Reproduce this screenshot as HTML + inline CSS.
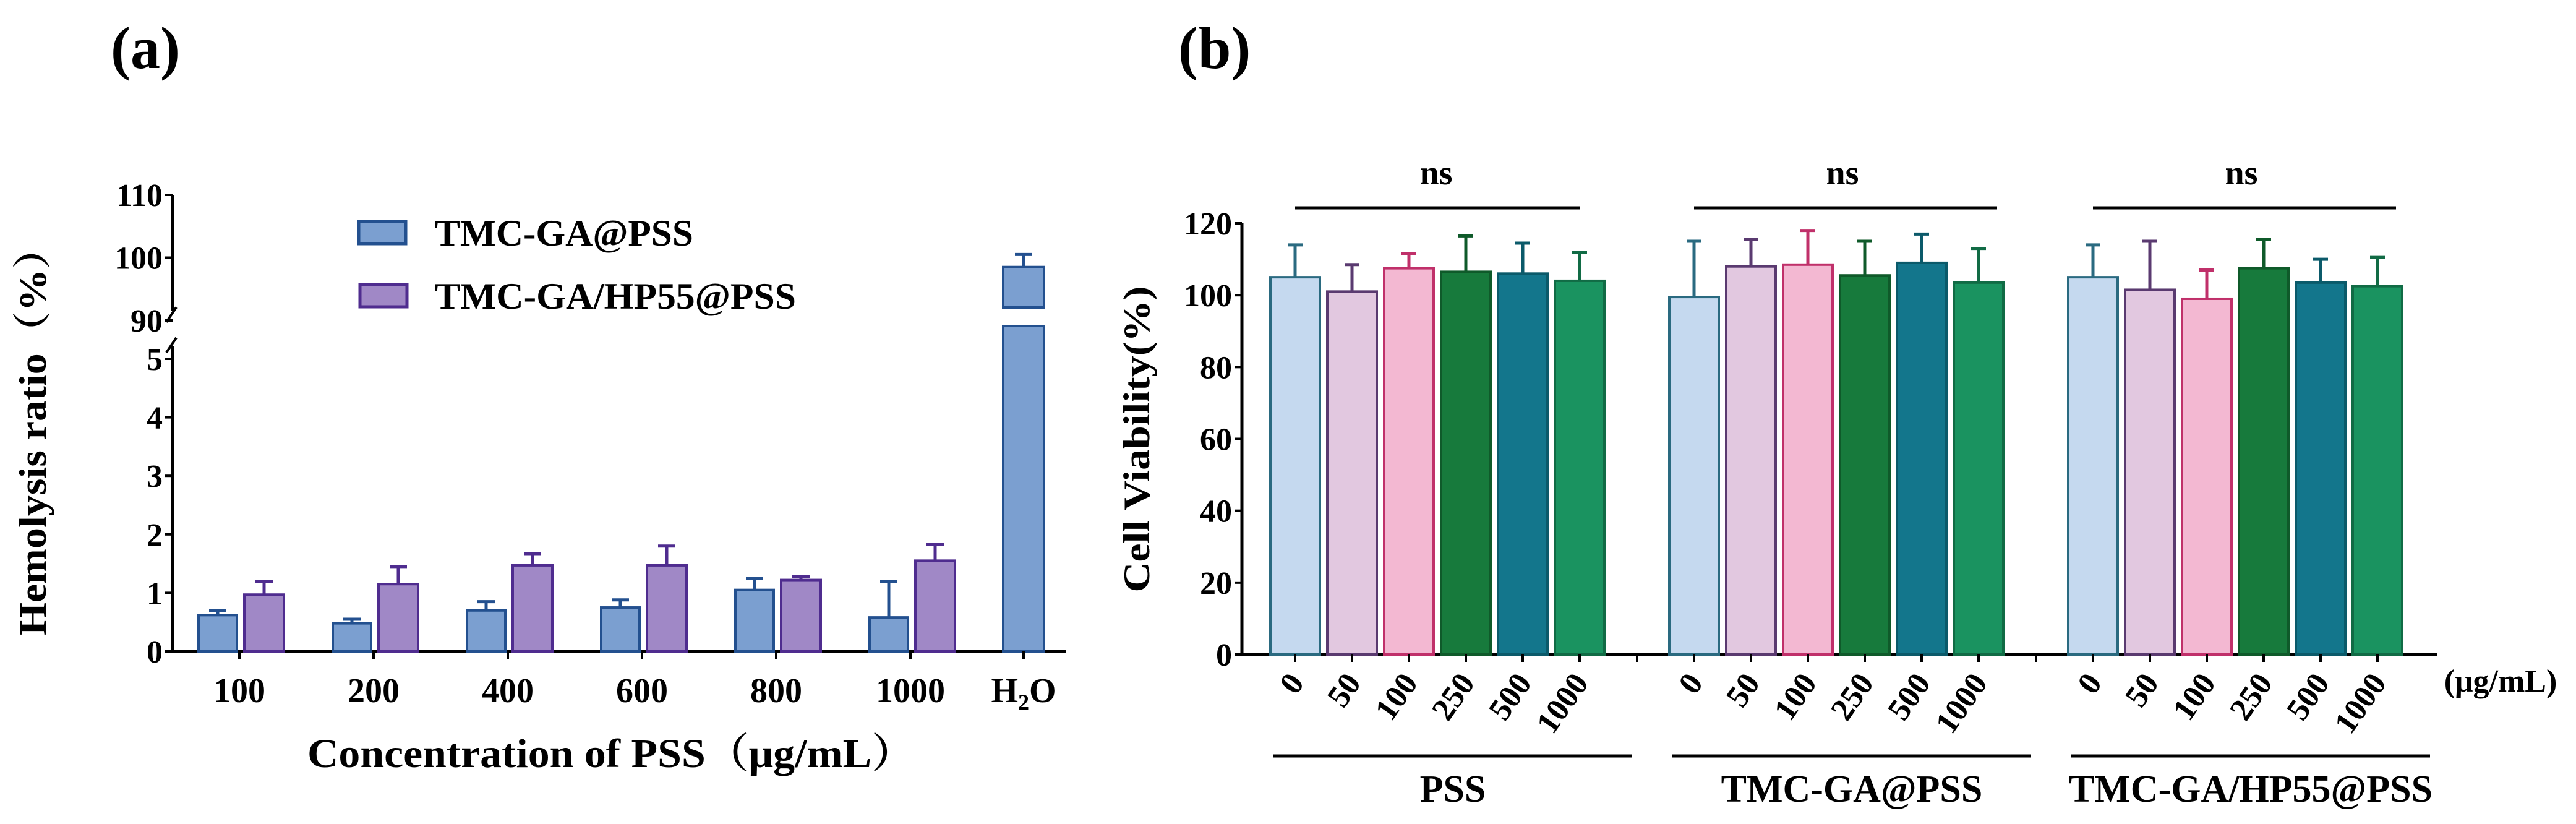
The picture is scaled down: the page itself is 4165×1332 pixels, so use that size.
<!DOCTYPE html>
<html><head><meta charset="utf-8"><style>
html,body{margin:0;padding:0;background:#fff;}
svg{display:block;font-family:"Liberation Serif","Noto Serif CJK SC",serif;font-weight:bold;}
</style></head><body>
<svg id="fig" width="4165" height="1332" viewBox="0 0 4165 1332" xmlns="http://www.w3.org/2000/svg">
<text x="179" y="110" font-size="96">(a)</text>
<text x="1905" y="110" font-size="96">(b)</text>
<g id="ga"></g>
<g id="gb"></g>
</svg>
<script>
// ---- Panel (a) data ----
const aCats = ["100","200","400","600","800","1000"];
const aBlue = [0.62,0.48,0.70,0.75,1.05,0.58];
const aBlueErr = [0.08,0.07,0.15,0.13,0.20,0.62];
const aPurple = [0.97,1.15,1.47,1.47,1.22,1.55];
const aPurpleErr = [0.23,0.30,0.20,0.33,0.06,0.28];
const aH2O = 98.5;
const aH2OErr = 2.0;
const aLowTicks = [0,1,2,3,4,5];
const aHighTicks = [90,100,110];
// ---- Panel (b) data ----
const bGroups = ["PSS","TMC-GA@PSS","TMC-GA/HP55@PSS"];
const bConc = ["0","50","100","250","500","1000"];
const bVals = [[105,101,107.5,106.5,106,104],[99.5,108,108.5,105.5,109,103.5],[105,101.5,99,107.5,103.5,102.5]];
const bErr = [[9,7.5,4,10,8.5,8],[15.5,7.5,9.5,9.5,8,9.5],[9,13.5,8,8,6.5,8]];
const bTicks = [0,20,40,60,80,100,120];

const NS="http://www.w3.org/2000/svg";
function mk(parent,tag,attrs,txt){const e=document.createElementNS(NS,tag);for(const k in attrs)e.setAttribute(k,attrs[k]);if(txt!==undefined)e.textContent=txt;parent.appendChild(e);return e;}

// ---- Panel (a) ----
const ga=document.getElementById('ga');
const aX0=279, aBase=1053, aPerU=94.6;
const yLow=v=>aBase-v*aPerU;
const yHigh=v=>518-(v-90)*10.15;
const catX=i=>387+i*217;
let e=mk(ga,'line',{x1:aX0,y1:aBase,x2:1724,y2:aBase,stroke:'#000','stroke-width':5});

e=mk(ga,'line',{x1:aX0,y1:aBase,x2:aX0,y2:yLow(5)-20,stroke:'#000','stroke-width':5});

e=mk(ga,'line',{x1:aX0,y1:yHigh(91.5),x2:aX0,y2:yHigh(110),stroke:'#000','stroke-width':5});

mk(ga,'line',{x1:aX0-10,y1:yLow(5)-10,x2:aX0+6,y2:yLow(5)-34,stroke:'#000','stroke-width':4});
mk(ga,'line',{x1:aX0-10,y1:yHigh(91.5)+18,x2:aX0+6,y2:yHigh(91.5)-6,stroke:'#000','stroke-width':4});
aLowTicks.forEach(t=>{const y=yLow(t);mk(ga,'line',{x1:aX0-12,y1:y,x2:aX0,y2:y,stroke:'#000','stroke-width':4});
 const l=mk(ga,'text',{x:aX0-16,y:y+18,'font-size':52,'text-anchor':'end'},String(t));
 });
aHighTicks.forEach(t=>{const y=yHigh(t);mk(ga,'line',{x1:aX0-12,y1:y,x2:aX0,y2:y,stroke:'#000','stroke-width':4});
 const l=mk(ga,'text',{x:aX0-16,y:y+18,'font-size':52,'text-anchor':'end'},String(t));
 });
function errBar(g,x,y,ytop,col,hw){mk(g,'line',{x1:x,y1:y,x2:x,y2:ytop,stroke:col,'stroke-width':5});mk(g,'line',{x1:x-hw,y1:ytop,x2:x+hw,y2:ytop,stroke:col,'stroke-width':5});}
aCats.forEach((c,i)=>{
 const cx=catX(i);
 let b=mk(ga,'rect',{x:cx-66,y:yLow(aBlue[i]),width:62,height:aBlue[i]*aPerU,fill:'#7b9fd0',stroke:'#23508f','stroke-width':4});
 
 errBar(ga,cx-35,yLow(aBlue[i]),yLow(aBlue[i]+aBlueErr[i]),'#23508f',14);
 b=mk(ga,'rect',{x:cx+8,y:yLow(aPurple[i]),width:64,height:aPurple[i]*aPerU,fill:'#a088c6',stroke:'#4f2c8f','stroke-width':4});
 
 errBar(ga,cx+40,yLow(aPurple[i]),yLow(aPurple[i]+aPurpleErr[i]),'#4f2c8f',14);
 mk(ga,'line',{x1:cx,y1:aBase,x2:cx,y2:aBase+12,stroke:'#000','stroke-width':4});
 const l=mk(ga,'text',{x:cx,y:1135,'font-size':56,'text-anchor':'middle'},c);
 
});
const hx=1655;
let hb=mk(ga,'rect',{x:hx-33,y:527,width:66,height:aBase-527,fill:'#7b9fd0',stroke:'#23508f','stroke-width':4});

hb=mk(ga,'rect',{x:hx-33,y:yHigh(aH2O),width:66,height:497-yHigh(aH2O),fill:'#7b9fd0',stroke:'#23508f','stroke-width':4});

errBar(ga,hx,yHigh(aH2O),yHigh(aH2O+aH2OErr),'#23508f',14);
mk(ga,'line',{x1:hx,y1:aBase,x2:hx,y2:aBase+12,stroke:'#000','stroke-width':4});
e=mk(ga,'text',{x:hx,y:1135,'font-size':56,'text-anchor':'middle'});e.innerHTML='H<tspan font-size="36" dy="12">2</tspan><tspan dy="-12">O</tspan>';

e=mk(ga,'text',{x:988,y:1240,'font-size':66,'text-anchor':'middle',textLength:982,lengthAdjust:'spacingAndGlyphs'},'Concentration of PSS（μg/mL）');

e=mk(ga,'text',{x:0,y:0,'font-size':62,'text-anchor':'middle',transform:'translate(74,697) rotate(-90)',textLength:660,lengthAdjust:'spacingAndGlyphs'},'Hemolysis ratio（%）');

e=mk(ga,'rect',{x:580,y:358,width:76,height:36,fill:'#7b9fd0',stroke:'#23508f','stroke-width':5});

e=mk(ga,'text',{x:703,y:397,'font-size':60,textLength:418,lengthAdjust:'spacingAndGlyphs'},'TMC-GA@PSS');

e=mk(ga,'rect',{x:582,y:460,width:76,height:36,fill:'#a088c6',stroke:'#4f2c8f','stroke-width':5});

e=mk(ga,'text',{x:703,y:499,'font-size':60,textLength:584,lengthAdjust:'spacingAndGlyphs'},'TMC-GA/HP55@PSS');


// ---- Panel (b) ----
const gb=document.getElementById('gb');
const bX0=2008,bBase=1058,bTop=361;
const yb=v=>bBase-v*(bBase-bTop)/120;
const bx=(g,i)=>2094+g*645+i*92;
const fills=['#c5d9ef','#e2c8e0','#f3b8d2','#177a3c','#13768c','#1a9360'];
const strokes=['#2a6a80','#5a3a70','#c0306a','#0f5a2a','#0b5a6a','#116b45'];
e=mk(gb,'line',{x1:bX0,y1:bBase,x2:3941,y2:bBase,stroke:'#000','stroke-width':5});

e=mk(gb,'line',{x1:bX0,y1:bBase,x2:bX0,y2:bTop,stroke:'#000','stroke-width':5});

bTicks.forEach(t=>{const y=yb(t);mk(gb,'line',{x1:bX0-12,y1:y,x2:bX0,y2:y,stroke:'#000','stroke-width':4});
 const l=mk(gb,'text',{x:bX0-16,y:y+18,'font-size':52,'text-anchor':'end'},String(t));
 });
[2647,3292].forEach(x=>mk(gb,'line',{x1:x,y1:bBase,x2:x,y2:bBase+12,stroke:'#000','stroke-width':4}));
bGroups.forEach((gname,g)=>{
 bConc.forEach((c,i)=>{
  const cx=bx(g,i),v=bVals[g][i];
  const r=mk(gb,'rect',{x:cx-40,y:yb(v),width:80,height:bBase-yb(v),fill:fills[i],stroke:strokes[i],'stroke-width':4});
  
  errBar(gb,cx,yb(v),yb(v+bErr[g][i]),strokes[i],12);
  mk(gb,'line',{x1:cx,y1:bBase,x2:cx,y2:bBase+12,stroke:'#000','stroke-width':4});
  const l=mk(gb,'text',{x:0,y:0,'font-size':52,'text-anchor':'end',transform:`translate(${cx+16},${1104}) rotate(-55)`},c);
  
 });
 const x1=bx(g,0),x6=bx(g,5);
 mk(gb,'line',{x1:x1,y1:336,x2:x6+(g===0?0:30),y2:336,stroke:'#000','stroke-width':5});
 const ns=mk(gb,'text',{x:(x1+x6)/2+(g===0?-2:10),y:298,'font-size':56,'text-anchor':'middle'},'ns');
 
 mk(gb,'line',{x1:x1-35,y1:1222,x2:x6+85,y2:1222,stroke:'#000','stroke-width':5});
 const gl=mk(gb,'text',{x:(x1+x6)/2+25,y:1296,'font-size':62,'text-anchor':'middle'},gname);
 
});
e=mk(gb,'text',{x:4043,y:1118,'font-size':52,'text-anchor':'middle'},'(μg/mL)');

e=mk(gb,'text',{x:0,y:0,'font-size':60,'text-anchor':'middle',transform:'translate(1858,710) rotate(-90)',textLength:495,lengthAdjust:'spacingAndGlyphs'},'Cell Viability(%)');

</script>
</body></html>
